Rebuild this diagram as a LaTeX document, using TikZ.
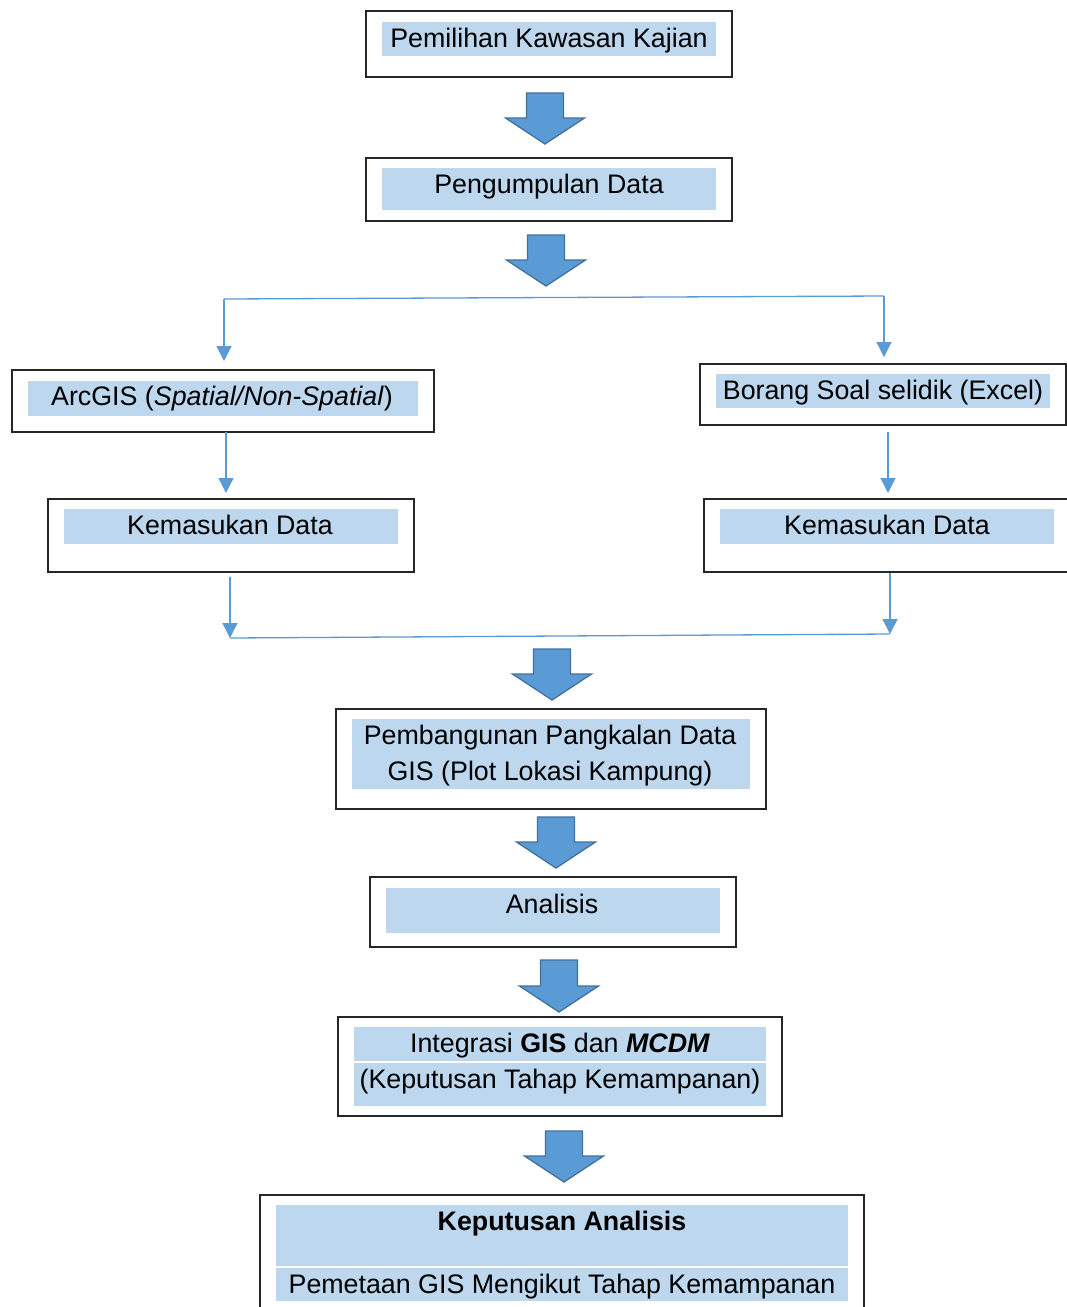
\documentclass[tikz,border=0pt]{standalone}
\usepackage{fontspec}
\setmainfont{Liberation Sans}
\usetikzlibrary{arrows.meta,fit}
\definecolor{fillblue}{RGB}{189,215,238}
\definecolor{arrowblue}{RGB}{91,155,213}
\definecolor{arrowedge}{RGB}{65,113,156}
\newcommand{\blockarrow}[3]{%
  \draw[fat] (#1-18.5,#2) -- (#1+18.5,#2) -- (#1+18.5,#3-26) -- (#1+39.5,#3-26)
    -- (#1,#3) -- (#1-39.5,#3-26) -- (#1-18.5,#3-26) -- cycle;}
\begin{document}
\begin{tikzpicture}[x=1pt,y=-1pt,
  outer/.style={draw=black!85,line width=1.4pt,inner sep=0pt,rectangle},
  fillbox/.style={fill=fillblue,inner sep=0pt,rectangle},
  txt/.style={inner sep=0pt,anchor=base,font=\fontsize{26.8}{30}\selectfont},
  fat/.style={fill=arrowblue,draw=arrowedge,line width=1.3pt,line join=miter},
  thin/.style={draw=arrowblue,line width=1.3pt},
  thinarrow/.style={thin,-{Triangle[width=15pt,length=15pt]}}]
\useasboundingbox (0,0) rectangle (1067,1307);
\fill[white] (0,0) rectangle (1067,1307);

% boxes
\node[outer,fit={(366,11) (732,77)}] (b1) {};
\node[fillbox,fit={(382,22) (716,56)}] (f1) {};
\node[txt] (t1) at (549,47.5) {Pemilihan Kawasan Kajian};

\node[outer,fit={(366,158) (732,221)}] (b2) {};
\node[fillbox,fit={(382,168) (716,210)}] (f2) {};
\node[txt] (t2) at (549,193.5) {Pengumpulan Data};

\node[outer,fit={(12,370) (434,432)}] (b3l) {};
\node[fillbox,fit={(28,381) (418,416)}] (f3l) {};
\node[txt] (t3l) at (222,405.5) {ArcGIS (\textit{Spatial/Non-Spatial})};

\node[outer,fit={(700,364) (1066,425)}] (b3r) {};
\node[fillbox,fit={(716,374) (1050,408)}] (f3r) {};
\node[txt] (t3r) at (883,399.5) {Borang Soal selidik (Excel)};

\node[outer,fit={(48,499) (414,572)}] (b4l) {};
\node[fillbox,fit={(64,509) (398,544)}] (f4l) {};
\node[txt] (t4l) at (230,534.5) {Kemasukan Data};

\node[outer,fit={(704,499) (1072,572)}] (b4r) {};
\node[fillbox,fit={(720,509) (1054,544)}] (f4r) {};
\node[txt] (t4r) at (887,534.5) {Kemasukan Data};

\node[outer,fit={(336,709) (766,809)}] (b5) {};
\node[fillbox,fit={(352,719) (750,789)}] (f5) {};
\node[txt] (t5a) at (550,744.5) {Pembangunan Pangkalan Data};
\node[txt] (t5b) at (550,780.5) {GIS (Plot Lokasi Kampung)};

\node[outer,fit={(370,877) (736,947)}] (b6) {};
\node[fillbox,fit={(386,888) (720,933)}] (f6) {};
\node[txt] (t6) at (552,913.5) {Analisis};

\node[outer,fit={(338,1017) (782,1116)}] (b7) {};
\node[fillbox,fit={(354,1027) (766,1061)}] (f7a) {};
\node[fillbox,fit={(354,1063) (766,1106)}] (f7b) {};
\node[txt] (t7a) at (560,1052.5) {Integrasi \textbf{GIS} dan \textbf{\textit{MCDM}}};
\node[txt] (t7b) at (560,1088.5) {(Keputusan Tahap Kemampanan)};

\node[outer,fit={(260,1195) (864,1314)}] (b8) {};
\node[fillbox,fit={(276,1205) (848,1266)}] (f8a) {};
\node[fillbox,fit={(276,1268) (848,1301)}] (f8b) {};
\node[txt] (t8a) at (562,1230.5) {\textbf{Keputusan Analisis}};
\node[txt] (t8b) at (562,1293.5) {Pemetaan GIS Mengikut Tahap Kemampanan};

% block arrows
\blockarrow{545}{93}{144}
\blockarrow{546}{235}{286}
\blockarrow{552}{649}{700}
\blockarrow{556}{817}{868}
\blockarrow{559}{960}{1012}
\blockarrow{564}{1131}{1182}

% thin connectors
\coordinate (splitl) at (224,299);
\coordinate (splitr) at (884,296);
\coordinate (inl) at (224,361);
\coordinate (inr) at (884,357);
\draw[thin] (splitl) -- (splitr);
\draw[thinarrow] (splitl) -- (inl);
\draw[thinarrow] (splitr) -- (inr);

\coordinate (ml1) at (226,432);
\coordinate (ml2) at (226,493);
\coordinate (mr1) at (888,432);
\coordinate (mr2) at (888,493);
\draw[thinarrow] (ml1) -- (ml2);
\draw[thinarrow] (mr1) -- (mr2);

\coordinate (ll1) at (230,577);
\coordinate (ll2) at (230,638);
\coordinate (lr1) at (890,573);
\coordinate (lr2) at (890,634);
\draw[thinarrow] (ll1) -- (ll2);
\draw[thinarrow] (lr1) -- (lr2);
\draw[thin] (ll2) -- (lr2);
\end{tikzpicture}
\end{document}
